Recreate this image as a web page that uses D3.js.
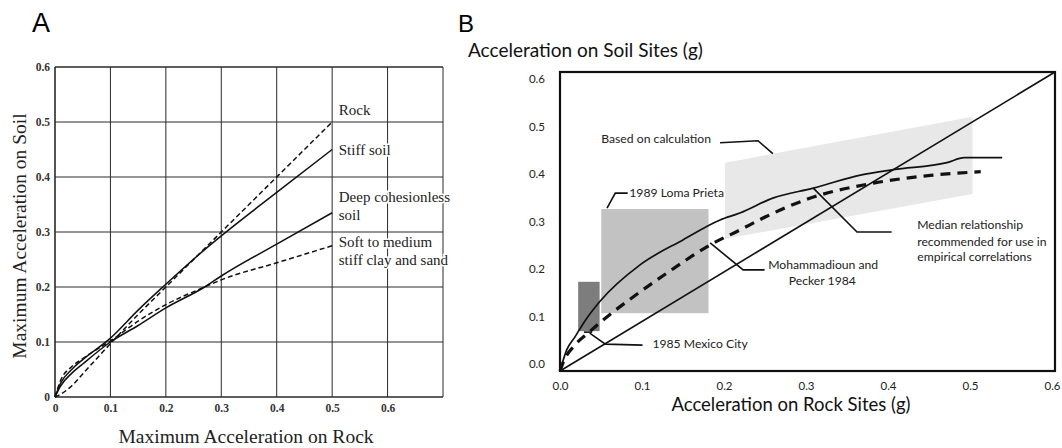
<!DOCTYPE html>
<html>
<head>
<meta charset="utf-8">
<script src="https://cdn.jsdelivr.net/npm/d3@7/dist/d3.min.js"></script>
<style>
body{margin:0;background:#fff;}
svg{display:block;}
</style>
</head>
<body>
<svg id="chart" width="1062" height="448"></svg>
<script>
// ---------- Panel A data ----------
const aX     = [0, 0.01, 0.03, 0.05, 0.1, 0.15, 0.2, 0.27, 0.3, 0.4, 0.5];
const aRock  = [0, 0.005, 0.02, 0.042, 0.097, 0.15, 0.2, 0.27, 0.3, 0.4, 0.5];
const aStiff = [0, 0.025, 0.05, 0.068, 0.107, 0.158, 0.205, 0.268, 0.293, 0.372, 0.45];
const aDeep  = [0, 0.02, 0.043, 0.06, 0.1, 0.13, 0.162, 0.2, 0.22, 0.278, 0.335];
const aSoft  = [0, 0.03, 0.055, 0.07, 0.102, 0.138, 0.168, 0.2, 0.213, 0.244, 0.275];
const aXTicks = [0, 0.1, 0.2, 0.3, 0.4, 0.5, 0.6];
const aXGrid  = [0, 0.1, 0.2, 0.3, 0.4, 0.5, 0.6, 0.7];
const aYTicks = [0, 0.1, 0.2, 0.3, 0.4, 0.5, 0.6];
const aLabels = [
  {text: "Rock", y: 0.513},
  {text: "Stiff soil", y: 0.44},
  {text: "Deep cohesionless", y: 0.354},
  {text: "soil", y: 0.322},
  {text: "Soft to medium", y: 0.272},
  {text: "stiff clay and sand", y: 0.24}
];

// ---------- Panel B data ----------
const bMedianX = [0, 0.008, 0.018, 0.03, 0.048, 0.097, 0.149, 0.194, 0.218, 0.258, 0.307, 0.364, 0.404, 0.469, 0.49, 0.536];
const bMedianY = [0, 0.042, 0.068, 0.1, 0.139, 0.213, 0.263, 0.303, 0.317, 0.347, 0.367, 0.393, 0.404, 0.418, 0.428, 0.428];
const bMPX = [0, 0.004, 0.018, 0.034, 0.052, 0.089, 0.13, 0.182, 0.218, 0.25, 0.3, 0.38, 0.452, 0.51];
const bMPY = [0, 0.018, 0.052, 0.076, 0.102, 0.149, 0.197, 0.253, 0.283, 0.31, 0.345, 0.377, 0.393, 0.4];
const bDiag = [0, 0.6];
const bCalcX = [0.2, 0.5, 0.5, 0.2];
const bCalcY = [0.418, 0.51, 0.355, 0.265];
const bLomaX = [0.05, 0.18];
const bLomaY = [0.116, 0.325];
const bMexX = [0.022, 0.048];
const bMexY = [0.08, 0.179];
const bTicks = [0, 0.1, 0.2, 0.3, 0.4, 0.5, 0.6];
const bLeaders = [
  {x: [0.194, 0.24, 0.258], y: [0.458, 0.462, 0.436]},
  {x: [0.082, 0.067, 0.057], y: [0.357, 0.357, 0.327]},
  {x: [0.182, 0.222, 0.248], y: [0.257, 0.203, 0.203]},
  {x: [0.307, 0.36, 0.402], y: [0.367, 0.279, 0.279]},
  {x: [0.029, 0.039], y: [0.078, 0.078]},
  {x: [0.036, 0.055, 0.1], y: [0.076, 0.054, 0.052]}
];
const bNotes = [
  {text: "Based on calculation", x: 0.05, y: 0.467, anchor: "start"},
  {text: "1989 Loma Prieta", x: 0.084, y: 0.357, anchor: "start"},
  {text: "Mohammadioun and", x: 0.319, y: 0.213, anchor: "middle"},
  {text: "Pecker 1984", x: 0.318, y: 0.181, anchor: "middle"},
  {text: "Median relationship", x: 0.433, y: 0.293, anchor: "start"},
  {text: "recommended for use in", x: 0.433, y: 0.259, anchor: "start"},
  {text: "empirical correlations", x: 0.433, y: 0.229, anchor: "start"},
  {text: "1985 Mexico City", x: 0.112, y: 0.054, anchor: "start"}
];

const svg = d3.select("#chart");

// ================= Panel A =================
const xA = d3.scaleLinear().domain([0, 0.7]).range([55, 443]);
const yA = d3.scaleLinear().domain([0, 0.6]).range([397, 67]);
const serif = "'Liberation Serif','DejaVu Serif',serif";
const gA = svg.append("g");

gA.selectAll("line.vg").data(aXGrid).join("line")
  .attr("x1", d => xA(d)).attr("x2", d => xA(d))
  .attr("y1", yA(0)).attr("y2", yA(0.6))
  .attr("stroke", "#2a2a2a").attr("stroke-width", d => (d === 0 ? 1.6 : 1));
gA.selectAll("line.hg").data(aYTicks).join("line")
  .attr("y1", d => yA(d)).attr("y2", d => yA(d))
  .attr("x1", xA(0)).attr("x2", xA(0.7))
  .attr("stroke", "#2a2a2a").attr("stroke-width", d => (d === 0 || d === 0.6 ? 1.6 : 1));

const fmtA = d => (d === 0 ? "0" : d3.format(".1f")(d));
const axA = gA.append("g").attr("transform", `translate(0,${yA(0) + 4})`)
  .call(d3.axisBottom(xA).tickValues(aXTicks).tickSize(0).tickFormat(fmtA));
axA.select(".domain").remove();
axA.selectAll("text").attr("font-family", serif).attr("font-size", 11.5).attr("font-weight", "bold").attr("fill", "#333");
const ayA = gA.append("g").attr("transform", `translate(${xA(0) - 2},0)`)
  .call(d3.axisLeft(yA).tickValues(aYTicks).tickSize(0).tickFormat(fmtA));
ayA.select(".domain").remove();
ayA.selectAll("text").attr("font-family", serif).attr("font-size", 11.5).attr("font-weight", "bold").attr("fill", "#333");

const lineA = d3.line().x(d => xA(d[0])).y(d => yA(d[1])).curve(d3.curveMonotoneX);
const seriesA = [
  {y: aRock, dash: "5,3"},
  {y: aStiff, dash: null},
  {y: aDeep, dash: null},
  {y: aSoft, dash: "5,3"}
];
seriesA.forEach(s => {
  gA.append("path").datum(aX.map((x, i) => [x, s.y[i]]))
    .attr("d", lineA).attr("fill", "none").attr("stroke", "#111")
    .attr("stroke-width", 1.5).attr("stroke-dasharray", s.dash);
});

gA.selectAll("text.lab").data(aLabels).join("text")
  .attr("x", xA(0.512)).attr("y", d => yA(d.y))
  .attr("font-family", serif).attr("font-size", 15).attr("fill", "#222")
  .attr("stroke", "#fff").attr("stroke-width", 3).attr("paint-order", "stroke")
  .text(d => d.text);

gA.append("text").attr("transform", `translate(26,${(yA(0) + yA(0.6)) / 2 + 4}) rotate(-90)`)
  .attr("text-anchor", "middle").attr("font-family", serif).attr("font-size", 19.5).attr("fill", "#222")
  .text("Maximum Acceleration on Soil");
gA.append("text").attr("x", 246).attr("y", 443)
  .attr("text-anchor", "middle").attr("font-family", serif).attr("font-size", 19.5).attr("fill", "#222")
  .text("Maximum Acceleration on Rock");
svg.append("text").attr("x", 32).attr("y", 32).attr("font-family", "'Liberation Sans',Arial,sans-serif")
  .attr("font-size", 27).text("A");

// ================= Panel B =================
const xB = d3.scaleLinear().domain([0, 0.6]).range([560, 1055]);
const xBLab = d3.scaleLinear().domain([0, 0.6]).range([560, 1052]);
const yB = d3.scaleLinear().domain([0, 0.6]).range([371, 72]);
const yBLab = d3.scaleLinear().domain([0, 0.6]).range([364, 79]);
const sans = "Lato,'Open Sans',sans-serif";
const gB = svg.append("g");

gB.append("polygon")
  .attr("points", bCalcX.map((x, i) => [xB(x), yB(bCalcY[i])].join(",")).join(" "))
  .attr("fill", "#e8e8e8");
gB.append("rect").attr("x", xB(bLomaX[0])).attr("y", yB(bLomaY[1]))
  .attr("width", xB(bLomaX[1]) - xB(bLomaX[0])).attr("height", yB(bLomaY[0]) - yB(bLomaY[1]))
  .attr("fill", "#c2c2c2");
gB.append("rect").attr("x", xB(bMexX[0])).attr("y", yB(bMexY[1]))
  .attr("width", xB(bMexX[1]) - xB(bMexX[0])).attr("height", yB(bMexY[0]) - yB(bMexY[1]))
  .attr("fill", "#7d7d7d");

const lineB = d3.line().x(d => xB(d[0])).y(d => yB(d[1]));
const smoothB = d3.line().x(d => xB(d[0])).y(d => yB(d[1])).curve(d3.curveMonotoneX);
gB.append("path").datum(bDiag.map(v => [v, v])).attr("d", lineB)
  .attr("fill", "none").attr("stroke", "#111").attr("stroke-width", 1.6);
gB.append("path").datum(bMedianX.map((x, i) => [x, bMedianY[i]]))
  .attr("d", smoothB).attr("fill", "none").attr("stroke", "#111").attr("stroke-width", 1.7);
gB.append("path").datum(bMPX.map((x, i) => [x, bMPY[i]]))
  .attr("d", smoothB)
  .attr("fill", "none").attr("stroke", "#111").attr("stroke-width", 3.2).attr("stroke-dasharray", "10,7");

bLeaders.forEach(l => {
  gB.append("path").datum(l.x.map((x, i) => [x, l.y[i]]))
    .attr("d", lineB)
    .attr("fill", "none").attr("stroke", "#111").attr("stroke-width", 1.6);
});

gB.append("rect").attr("x", xB(0)).attr("y", yB(0.6))
  .attr("width", xB(0.6) - xB(0)).attr("height", yB(0) - yB(0.6))
  .attr("fill", "none").attr("stroke", "#111").attr("stroke-width", 2.2);

gB.selectAll("text.note").data(bNotes).join("text")
  .attr("x", d => xB(d.x)).attr("y", d => yB(d.y)).attr("dy", "0.35em")
  .attr("text-anchor", d => d.anchor)
  .attr("font-family", sans).attr("font-size", 12.2).attr("fill", "#222")
  .text(d => d.text);

const fmtB = d3.format(".1f");
const axB = gB.append("g").attr("transform", `translate(0,${yB(0) + 8})`)
  .call(d3.axisBottom(xBLab).tickValues(bTicks).tickSize(0).tickFormat(fmtB));
axB.select(".domain").remove();
axB.selectAll("text").attr("font-family", sans).attr("font-size", 11.5).attr("fill", "#222");
const ayB = gB.append("g").attr("transform", `translate(${xB(0) - 12},0)`)
  .call(d3.axisLeft(yBLab).tickValues(bTicks).tickSize(0).tickFormat(fmtB));
ayB.select(".domain").remove();
ayB.selectAll("text").attr("font-family", sans).attr("font-size", 11.5).attr("fill", "#222");

gB.append("text").attr("x", 468).attr("y", 50).attr("dy", "0.35em")
  .attr("font-family", sans).attr("font-size", 19).attr("fill", "#111")
  .text("Acceleration on Soil Sites (g)");
gB.append("text").attr("x", 791).attr("y", 405).attr("dy", "0.35em").attr("text-anchor", "middle")
  .attr("font-family", sans).attr("font-size", 18.5).attr("fill", "#111")
  .text("Acceleration on Rock Sites (g)");
svg.append("text").attr("x", 458).attr("y", 32).attr("font-family", "'Liberation Sans',Arial,sans-serif")
  .attr("font-size", 24).text("B");
</script>
</body>
</html>
